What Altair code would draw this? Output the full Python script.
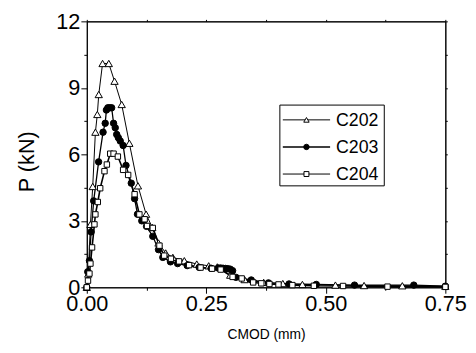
import altair as alt
import pandas as pd

series_names = ["C202", "C203", "C204"]

c202_x = [0.000, 0.003, 0.0076, 0.0124, 0.018, 0.022, 0.025, 0.033, 0.046, 0.058, 0.073,
          0.089, 0.107, 0.124, 0.137, 0.150, 0.165, 0.180, 0.204, 0.230, 0.255, 0.273,
          0.300, 0.330, 0.370, 0.410, 0.451, 0.520, 0.580, 0.660, 0.750]
c202_p = [0.0, 0.6, 2.84, 4.55, 7.0, 7.8, 8.7, 10.1, 10.1, 9.3, 8.25,
          6.5, 4.58, 3.3, 2.7, 2.0, 1.55, 1.35, 1.2, 1.05, 0.97, 0.92,
          0.55, 0.35, 0.22, 0.17, 0.13, 0.10, 0.08, 0.07, 0.05]

c203_x = [0.000, 0.002, 0.0055, 0.009, 0.0144, 0.0247, 0.034, 0.0385, 0.041, 0.044, 0.048,
          0.052, 0.056, 0.0595, 0.0625, 0.066, 0.070, 0.076, 0.082, 0.093, 0.100, 0.106,
          0.115, 0.125, 0.138, 0.150, 0.159, 0.175, 0.190, 0.210, 0.235, 0.260, 0.275,
          0.280, 0.285, 0.290, 0.295, 0.300, 0.305, 0.312, 0.344, 0.380, 0.423, 0.480,
          0.560, 0.684, 0.750]
c203_p = [0.0, 0.7, 1.2, 2.5, 3.9, 5.66, 7.0, 7.4, 8.0, 8.1, 8.1,
          8.1, 7.4, 7.2, 6.9, 6.75, 6.6, 6.4, 5.5, 4.7, 4.0, 3.3,
          3.0, 2.75, 2.3, 1.7, 1.35, 1.15, 1.07, 0.98, 0.9, 0.86, 0.87,
          0.87, 0.86, 0.85, 0.84, 0.82, 0.75, 0.45, 0.33, 0.2, 0.15, 0.13,
          0.10, 0.10, 0.05]

c204_x = [0.000, 0.0025, 0.0055, 0.0076, 0.011, 0.016, 0.018, 0.023, 0.028, 0.037, 0.042,
          0.049, 0.056, 0.065, 0.076, 0.0865, 0.100, 0.110, 0.121, 0.126, 0.138, 0.152,
          0.162, 0.176, 0.193, 0.214, 0.238, 0.262, 0.280, 0.305, 0.324, 0.348, 0.365,
          0.382, 0.401, 0.430, 0.475, 0.536, 0.629, 0.750]
c204_p = [0.0, 0.3, 0.62, 1.07, 1.8, 2.84, 3.29, 3.85, 4.47, 5.24, 5.54,
          6.03, 6.03, 5.9, 5.3, 5.07, 4.2, 3.29, 3.07, 2.77, 2.68, 1.88,
          1.43, 1.29, 1.17, 1.0, 0.89, 0.84, 0.8, 0.47, 0.4, 0.22, 0.18,
          0.15, 0.13, 0.10, 0.07, 0.06, 0.03, 0.02]

x_ticks = [0, 0.125, 0.25, 0.375, 0.5, 0.625, 0.75]
y_ticks = [0, 1.5, 3, 4.5, 6, 7.5, 9, 10.5, 12]

rows = []
for name, xs, ps in [("C202", c202_x, c202_p), ("C203", c203_x, c203_p), ("C204", c204_x, c204_p)]:
    for i, (xv, pv) in enumerate(zip(xs, ps)):
        rows.append({"series": name, "idx": i, "x": xv, "p": pv})
df = pd.DataFrame(rows)

FONT = "Liberation Sans"

x_scale = alt.Scale(domain=[0, 0.75], nice=False, zero=False, padding=0)
y_scale = alt.Scale(domain=[0, 12], nice=False, padding=0)

x_major_test = "abs(round(datum.value*4) - datum.value*4) < 1e-6"
y_major_test = "abs(datum.value % 3) < 1e-6"

x_axis = alt.Axis(values=x_ticks, format=".2f",
                  labelExpr=f"({x_major_test}) ? datum.label : ''",
                  tickSize={"condition": {"test": x_major_test, "value": 6}, "value": 3},
                  labelFlush=False, labelOverlap=False, labelBound=False,
                  labelPadding=1, labelFontSize=22, labelFont=FONT, labelColor="black",
                  title="CMOD (mm)", titleFontSize=14, titleFont=FONT, titleFontWeight="normal",
                  titlePadding=13, titleColor="black",
                  grid=False, domainColor="black", tickColor="black")
y_axis = alt.Axis(values=y_ticks,
                  labelExpr=f"({y_major_test}) ? datum.label : ''",
                  tickSize={"condition": {"test": y_major_test, "value": 6}, "value": 3},
                  labelFlush=False, labelOverlap=False, labelBound=False,
                  labelPadding=1, labelFontSize=22, labelFont=FONT, labelColor="black",
                  title="P (kN)", titleFontSize=22, titleFont=FONT, titleFontWeight="normal",
                  titleX=-49, titleY=142, titleColor="black",
                  grid=False, domainColor="black", tickColor="black")

x_axis_top = alt.Axis(orient="top", values=x_ticks, labels=False, title=None, tickSize=2,
                      grid=False, domainColor="black", tickColor="black")
y_axis_right = alt.Axis(orient="right", values=y_ticks, labels=False, title=None, tickSize=2,
                        grid=False, domainColor="black", tickColor="black")

base = alt.Chart(df)

lines = base.mark_line(color="black").encode(
    x=alt.X("x:Q", scale=x_scale, axis=x_axis),
    y=alt.Y("p:Q", scale=y_scale, axis=y_axis),
    detail="series:N",
    order="idx:Q",
    strokeWidth=alt.StrokeWidth("series:N", scale=alt.Scale(domain=series_names, range=[1, 1.6, 1]), legend=None),
)

mirror = base.mark_line(opacity=0).encode(
    x=alt.X("x:Q", scale=x_scale, axis=x_axis_top),
    y=alt.Y("p:Q", scale=y_scale, axis=y_axis_right),
    detail="series:N",
)

points = base.mark_point(filled=True, stroke="black", strokeWidth=1, opacity=1).encode(
    x=alt.X("x:Q", scale=x_scale, axis=None),
    y=alt.Y("p:Q", scale=y_scale, axis=None),
    shape=alt.Shape("series:N", scale=alt.Scale(domain=series_names, range=["triangle-up", "circle", "square"]), legend=None),
    fill=alt.Fill("series:N", scale=alt.Scale(domain=series_names, range=["white", "black", "white"]), legend=None),
    size=alt.Size("series:N", scale=alt.Scale(domain=series_names, range=[55, 30, 45]), legend=None),
)

# legend (drawn by hand in pixel space of the plot area)
one = pd.DataFrame({"a": [0]})
leg_layers = [alt.Chart(one).mark_rect(fill="white", stroke="black", strokeWidth=1).encode(
    x=alt.value(196), x2=alt.value(302), y=alt.value(85), y2=alt.value(167))]
leg_shapes = ["triangle-up", "circle", "square"]
leg_fills = ["white", "black", "white"]
leg_widths = [1, 1.6, 1]
leg_sizes = [30, 30, 25]
for i, name in enumerate(series_names):
    yy = 100 + i * 27.5
    leg_layers.append(alt.Chart(one).mark_rule(color="black", strokeWidth=leg_widths[i]).encode(
        x=alt.value(199), x2=alt.value(247), y=alt.value(yy)))
    leg_layers.append(alt.Chart(one).mark_point(shape=leg_shapes[i], filled=True, fill=leg_fills[i],
                                                stroke="black", strokeWidth=1, opacity=1,
                                                size=leg_sizes[i]).encode(
        x=alt.value(223), y=alt.value(yy)))
    leg_layers.append(alt.Chart(one).mark_text(align="left", baseline="middle", fontSize=18,
                                               font=FONT, color="black").encode(
        x=alt.value(253), y=alt.value(yy + 1), text=alt.value(name)))

chart = alt.layer(lines, mirror, points, *leg_layers).resolve_axis(
    x="independent", y="independent"
).properties(
    width=364, height=270,
    autosize=alt.AutoSizeParams(type="none"),
    padding={"left": 80, "top": 11, "right": 23, "bottom": 56},
    background="white",
).configure_view(stroke="black", strokeWidth=1)

chart.save("out.html", embed_options={"renderer": "svg", "actions": False})
